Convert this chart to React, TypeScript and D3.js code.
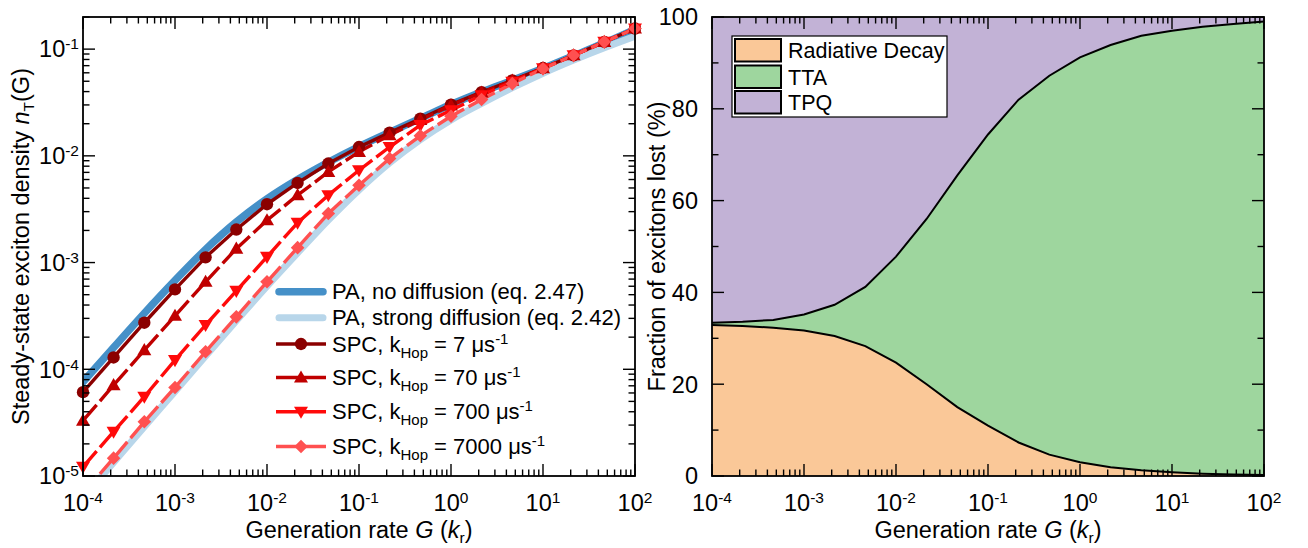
import React from 'react';
import * as d3 from 'd3';

// ---------- data ----------
const genRate = [1e-4, 2.15e-4, 4.64e-4, 1e-3, 2.15e-3, 4.64e-3, 1e-2, 2.15e-2, 4.64e-2, 0.1, 0.215, 0.464, 1, 2.15, 4.64, 10, 21.5, 46.4, 100];

const paNoDiffusion = [7.6e-5, 1.6e-4, 3.35e-4, 6.8e-4, 1.33e-3, 2.4e-3, 3.95e-3, 6.0e-3, 8.7e-3, 1.22e-2, 1.66e-2, 2.24e-2, 3.03e-2, 3.97e-2, 5.1e-2, 6.6e-2, 8.65e-2, 0.114, 0.153];
const paStrongDiffusion = [6.2e-6, 1.34e-5, 2.9e-5, 6.2e-5, 1.33e-4, 2.85e-4, 6.0e-4, 1.23e-3, 2.5e-3, 4.8e-3, 8.6e-3, 1.42e-2, 2.17e-2, 3.1e-2, 4.35e-2, 5.95e-2, 7.9e-2, 0.103, 0.132];
const spc7 = [6.1e-5, 1.29e-4, 2.73e-4, 5.6e-4, 1.12e-3, 2.04e-3, 3.52e-3, 5.57e-3, 8.47e-3, 1.21e-2, 1.65e-2, 2.23e-2, 3.02e-2, 3.96e-2, 5.1e-2, 6.65e-2, 8.75e-2, 0.117, 0.156];
const spc70 = [3.3e-5, 7.1e-5, 1.51e-4, 3.17e-4, 6.6e-4, 1.35e-3, 2.49e-3, 4.28e-3, 7.07e-3, 1.09e-2, 1.56e-2, 2.17e-2, 2.97e-2, 3.92e-2, 5.07e-2, 6.63e-2, 8.75e-2, 0.117, 0.156];
const spc700 = [1.22e-5, 2.6e-5, 5.53e-5, 1.22e-4, 2.6e-4, 5.43e-4, 1.13e-3, 2.36e-3, 4.28e-3, 7.33e-3, 1.21e-2, 1.94e-2, 2.67e-2, 3.69e-2, 4.95e-2, 6.6e-2, 8.75e-2, 0.117, 0.156];
const spc7000 = [6.9e-6, 1.47e-5, 3.22e-5, 6.76e-5, 1.46e-4, 3.1e-4, 6.6e-4, 1.38e-3, 2.88e-3, 5.31e-3, 9.44e-3, 1.54e-2, 2.35e-2, 3.37e-2, 4.75e-2, 6.56e-2, 8.75e-2, 0.117, 0.156];

const spcRates = ['7', '70', '700', '7000'];

const radiativePct = [32.9, 32.7, 32.3, 31.7, 30.5, 28.3, 24.7, 20.0, 15.0, 11.0, 7.3, 4.65, 3.0, 1.9, 1.23, 0.8, 0.5, 0.3, 0.2];
const ttaPct = [0.5, 0.9, 1.7, 3.5, 6.8, 12.9, 23.1, 36.0, 50.5, 63.4, 74.7, 82.55, 88.2, 92.0, 94.67, 96.2, 97.4, 98.2, 98.8];

const fractionLabels = ['Radiative Decay', 'TTA', 'TPQ'];
const fractionTicks = [0, 20, 40, 60, 80, 100];

// ---------- layout ----------
const W = 1308, H = 548;
const LP = { x0: 83, x1: 635, y0: 17, y1: 476 };
const RP = { x0: 712, x1: 1264, y0: 17, y1: 476 };
const FONT = 'Arial, "Liberation Sans", Helvetica, sans-serif';
const FS = 23.5;
const SUP = 15.5;
const LFS = 22;

const xL = d3.scaleLog().domain([1e-4, 1e2]).range([LP.x0, LP.x1]);
const yL = d3.scaleLog().domain([1e-5, 0.2]).range([LP.y1, LP.y0]);
const xR = d3.scaleLog().domain([1e-4, 1e2]).range([RP.x0, RP.x1]);
const yR = d3.scaleLinear().domain([0, 100]).range([RP.y1, RP.y0]);

const C = {
  paNo: '#4590c8',
  paStrong: '#b8d6ea',
  s7: '#8b0000',
  s70: '#c00000',
  s700: '#ff0a0a',
  s7000: '#ff5050',
  rad: '#fac898',
  tta: '#9ed69e',
  tpq: '#c2b2d6',
};

function logTicks(lo: number, hi: number) {
  const res: { v: number; major: boolean; e: number }[] = [];
  for (let e = Math.floor(Math.log10(lo)); e <= Math.ceil(Math.log10(hi)); e++) {
    for (let m = 1; m <= 9; m++) {
      const v = m * Math.pow(10, e);
      if (v >= lo * 0.999 && v <= hi * 1.001) res.push({ v, major: m === 1, e });
    }
  }
  return res;
}

const expStr = (e: number) => (e < 0 ? `-${-e}` : `${e}`);

function PowLabel({ x, y, e, anchor }: { x: number; y: number; e: number; anchor: string }) {
  return (
    <text x={x} y={y} textAnchor={anchor} fontSize={FS} fontFamily={FONT} fill="#000">
      <tspan>10</tspan>
      <tspan dy={-8} fontSize={SUP}>{expStr(e)}</tspan>
    </text>
  );
}

const MAJ = 12, MIN = 6.5;

function LogXAxis({ x, P }: { x: any; P: typeof LP }) {
  const t = logTicks(1e-4, 1e2);
  return (
    <g stroke="#000" strokeWidth={1.4}>
      {t.map((d, i) => {
        const px = x(d.v);
        const len = d.major ? MAJ : MIN;
        return (
          <g key={i}>
            <line x1={px} x2={px} y1={P.y1} y2={P.y1 - len} />
            <line x1={px} x2={px} y1={P.y0} y2={P.y0 + len} />
          </g>
        );
      })}
      {t.filter((d) => d.major).map((d, i) => (
        <g key={'l' + i} stroke="none">
          <PowLabel x={x(d.v)} y={511} e={d.e} anchor="middle" />
        </g>
      ))}
    </g>
  );
}

function symbolPath(kind: string) {
  if (kind === 'circle') return d3.symbol().type(d3.symbolCircle).size(120)()!;
  if (kind === 'up') return d3.symbol().type(d3.symbolTriangle).size(85)()!;
  if (kind === 'down') return d3.symbol().type(d3.symbolTriangle).size(85)()!;
  return d3.symbol().type(d3.symbolSquare).size(92)()!;
}
function symbolRot(kind: string) {
  if (kind === 'down') return 180;
  if (kind === 'diamond') return 45;
  return 0;
}
function symbolDy(kind: string) {
  if (kind === 'up') return 1;
  if (kind === 'down') return -1;
  return 0;
}

const spcSeries = [
  { vals: spc7, color: C.s7, kind: 'circle', dashed: false },
  { vals: spc70, color: C.s70, kind: 'up', dashed: true },
  { vals: spc700, color: C.s700, kind: 'down', dashed: true },
  { vals: spc7000, color: C.s7000, kind: 'diamond', dashed: true },
];

function LeftPlot() {
  const line = d3
    .line<number>()
    .x((_, i) => xL(genRate[i]))
    .y((d) => yL(d))
    .curve(d3.curveMonotoneX);
  const yT = logTicks(1e-5, 0.2);
  const legendRows = [291.7, 317.7, 344, 377.5, 411.7, 446.5];
  return (
    <g>
      <defs>
        <clipPath id="clipL">
          <rect x={LP.x0} y={LP.y0} width={LP.x1 - LP.x0} height={LP.y1 - LP.y0} />
        </clipPath>
      </defs>
      <g clipPath="url(#clipL)" fill="none" strokeLinecap="round" strokeLinejoin="round">
        <path d={line(paNoDiffusion)!} stroke={C.paNo} strokeWidth={7.5} />
        <path d={line(paStrongDiffusion)!} stroke={C.paStrong} strokeWidth={7} />
        {spcSeries.map((s, si) => (
          <g key={si}>
            {s.vals.slice(0, -1).map((v, i) => {
              const x1 = xL(genRate[i]), y1 = yL(v);
              const x2 = xL(genRate[i + 1]), y2 = yL(s.vals[i + 1]);
              const L = Math.hypot(x2 - x1, y2 - y1);
              const gap = 5;
              return (
                <line
                  key={i}
                  x1={x1}
                  y1={y1}
                  x2={x2}
                  y2={y2}
                  stroke={s.color}
                  strokeWidth={3.4}
                  strokeLinecap="butt"
                  strokeDasharray={s.dashed ? `${L / 2 - gap / 2} ${gap} ${L}` : undefined}
                />
              );
            })}
          </g>
        ))}
      </g>
      {spcSeries.map((s, si) => (
        <g key={'m' + si} fill={s.color}>
          {s.vals.map((v, i) =>
            v >= 1e-5 ? (
              <path
                key={i}
                d={symbolPath(s.kind)}
                transform={`translate(${xL(genRate[i])},${yL(v) + symbolDy(s.kind)}) rotate(${symbolRot(s.kind)})`}
              />
            ) : null
          )}
        </g>
      ))}
      {/* frame */}
      <rect x={LP.x0} y={LP.y0} width={LP.x1 - LP.x0} height={LP.y1 - LP.y0} fill="none" stroke="#000" strokeWidth={1.8} />
      <LogXAxis x={xL} P={LP} />
      <g stroke="#000" strokeWidth={1.4}>
        {yT.map((d, i) => {
          const py = yL(d.v);
          const len = d.major ? MAJ : MIN;
          return (
            <g key={i}>
              <line x1={LP.x0} x2={LP.x0 + len} y1={py} y2={py} />
              <line x1={LP.x1} x2={LP.x1 - len} y1={py} y2={py} />
            </g>
          );
        })}
      </g>
      {yT.filter((d) => d.major).map((d, i) => (
        <PowLabel key={i} x={79} y={yL(d.v) + 8.3} e={d.e} anchor="end" />
      ))}
      {/* axis titles */}
      <text x={(LP.x0 + LP.x1) / 2} y={538} textAnchor="middle" fontSize={FS} fontFamily={FONT}>
        Generation rate <tspan fontStyle="italic">G</tspan> (<tspan fontStyle="italic">k</tspan>
        <tspan dy={5} fontSize={SUP}>r</tspan>
        <tspan dy={-5}>)</tspan>
      </text>
      <text
        transform={`translate(28.5,${(LP.y0 + LP.y1) / 2}) rotate(-90)`}
        textAnchor="middle"
        fontSize={FS}
        fontFamily={FONT}
      >
        Steady-state exciton density <tspan fontStyle="italic">n</tspan>
        <tspan dy={5} fontSize={SUP}>T</tspan>
        <tspan dy={-5}>(G)</tspan>
      </text>
      {/* legend */}
      <g fontFamily={FONT} fontSize={LFS}>
        <line x1={279} x2={323} y1={legendRows[0]} y2={legendRows[0]} stroke={C.paNo} strokeWidth={7.5} strokeLinecap="round" />
        <text x={332} y={legendRows[0] + 7.5}>PA, no diffusion (eq. 2.47)</text>
        <line x1={279} x2={323} y1={legendRows[1]} y2={legendRows[1]} stroke={C.paStrong} strokeWidth={7} strokeLinecap="round" />
        <text x={332} y={legendRows[1] + 7.5}>PA, strong diffusion (eq. 2.42)</text>
        {spcSeries.map((s, i) => {
          const ry = legendRows[i + 2];
          return (
            <g key={i}>
              <line x1={276} x2={326} y1={ry} y2={ry} stroke={s.color} strokeWidth={3.4} />
              <path d={symbolPath(s.kind)} fill={s.color} transform={`translate(301,${ry + symbolDy(s.kind)}) rotate(${symbolRot(s.kind)})`} />
              <text x={332} y={ry + 7.5}>
                SPC, k<tspan dy={6} fontSize={15}>Hop</tspan>
                <tspan dy={-6}> = {spcRates[i]} μs</tspan>
                <tspan dy={-8} fontSize={15}>-1</tspan>
              </text>
            </g>
          );
        })}
      </g>
    </g>
  );
}

function RightPlot() {
  const rows = genRate.map((g, i) => ({ g, rad: radiativePct[i], tta: ttaPct[i], tpq: 100 - radiativePct[i] - ttaPct[i] }));
  const stack = d3.stack<any>().keys(['rad', 'tta', 'tpq'])(rows);
  const area = d3
    .area<any>()
    .x((d) => xR(d.data.g))
    .y0((d) => yR(d[0]))
    .y1((d) => yR(d[1]));
  const boundary = d3
    .line<any>()
    .x((d) => xR(d.data.g))
    .y((d) => yR(d[1]));
  const fills = [C.rad, C.tta, C.tpq];
  const yTicks = d3.range(0, 101, 10);
  const legendY = [39, 65.5, 91];
  return (
    <g>
      {stack.map((s, i) => (
        <path key={i} d={area(s)!} fill={fills[i]} />
      ))}
      <path d={boundary(stack[0])!} fill="none" stroke="#000" strokeWidth={2} />
      <path d={boundary(stack[1])!} fill="none" stroke="#000" strokeWidth={2} />
      <rect x={RP.x0} y={RP.y0} width={RP.x1 - RP.x0} height={RP.y1 - RP.y0} fill="none" stroke="#000" strokeWidth={1.8} />
      <LogXAxis x={xR} P={RP} />
      <g stroke="#000" strokeWidth={1.4}>
        {yTicks.map((v, i) => {
          const py = yR(v);
          const len = v % 20 === 0 ? MAJ : MIN;
          return (
            <g key={i}>
              <line x1={RP.x0} x2={RP.x0 + len} y1={py} y2={py} />
              <line x1={RP.x1} x2={RP.x1 - len} y1={py} y2={py} />
            </g>
          );
        })}
      </g>
      {fractionTicks.map((v, i) => (
        <text key={i} x={698} y={yR(v) + 8.3} textAnchor="end" fontSize={FS} fontFamily={FONT}>
          {v}
        </text>
      ))}
      <text x={(RP.x0 + RP.x1) / 2} y={538} textAnchor="middle" fontSize={FS} fontFamily={FONT}>
        Generation rate <tspan fontStyle="italic">G</tspan> (<tspan fontStyle="italic">k</tspan>
        <tspan dy={5} fontSize={SUP}>r</tspan>
        <tspan dy={-5}>)</tspan>
      </text>
      <text
        transform={`translate(665,${(RP.y0 + RP.y1) / 2}) rotate(-90)`}
        textAnchor="middle"
        fontSize={FS}
        fontFamily={FONT}
      >
        Fraction of excitons lost (%)
      </text>
      {/* legend */}
      <rect x={732} y={36} width={215} height={81} fill="#fff" stroke="#000" strokeWidth={1.2} />
      {fractionLabels.map((lab, i) => (
        <g key={i}>
          <rect x={735} y={legendY[i]} width={46} height={22.5} fill={fills[i]} stroke="#000" strokeWidth={2} />
          <text x={788} y={legendY[i] + 19} fontSize={21.5} fontFamily={FONT}>
            {lab}
          </text>
        </g>
      ))}
    </g>
  );
}

export default function App() {
  return (
    <svg
      width={W}
      height={H}
      viewBox={`0 0 ${W} ${H}`}
      style={{ position: 'absolute', left: 0, top: 0, background: '#fff' }}
    >
      <rect width={W} height={H} fill="#fff" />
      <LeftPlot />
      <RightPlot />
    </svg>
  );
}
